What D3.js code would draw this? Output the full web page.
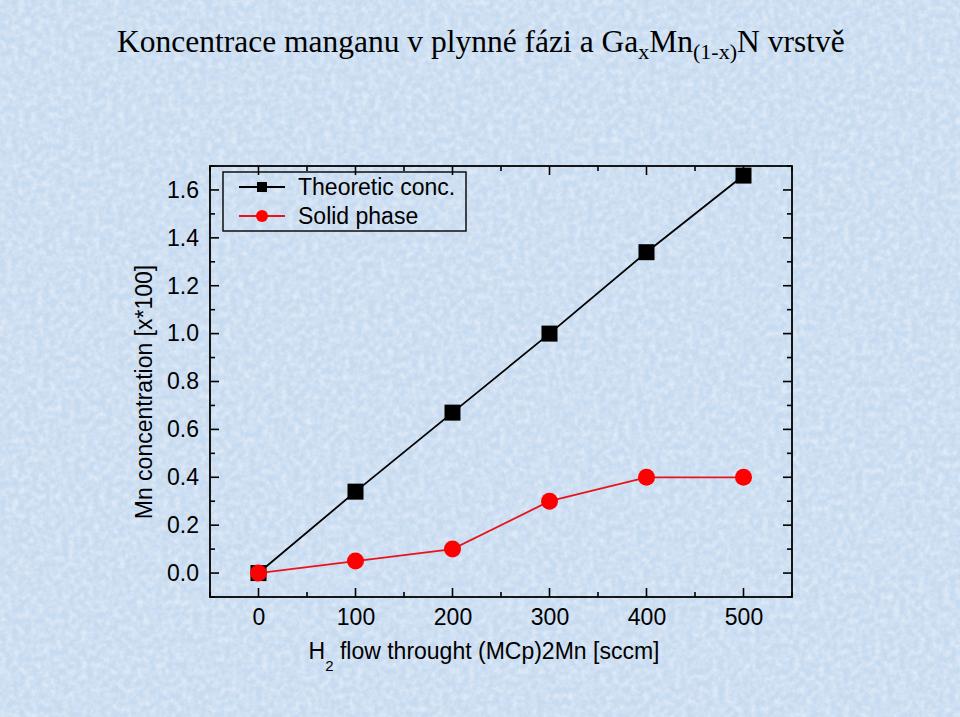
<!DOCTYPE html>
<html><head><meta charset="utf-8">
<script src="https://cdn.jsdelivr.net/npm/d3@7"></script>
<style>body{margin:0;background:#cddff2}svg{display:block}</style>
</head><body>
<svg id="c" width="960" height="717"></svg>
<script>
const xValues = [0, 100, 200, 300, 400, 500];
const theoretic = [0, 0.34, 0.67, 1.0, 1.34, 1.66];
const solid = [0, 0.05, 0.10, 0.30, 0.40, 0.40];
const xTicks = [0, 100, 200, 300, 400, 500];
const yTicks = [0.0, 0.2, 0.4, 0.6, 0.8, 1.0, 1.2, 1.4, 1.6];
const seriesNames = ["Theoretic conc.", "Solid phase"];

const W = 960, H = 717;
const svg = d3.select("#c");
const defs = svg.append("defs");
const f = defs.append("filter").attr("id","tex").attr("x",0).attr("y",0).attr("width","100%").attr("height","100%");
f.append("feTurbulence").attr("type","fractalNoise").attr("baseFrequency","0.16").attr("numOctaves",3).attr("seed",4).attr("result","n");
f.append("feColorMatrix").attr("in","n").attr("type","matrix")
 .attr("values","0 0 0 0 1  0 0 0 0 1  0 0 0 0 1  1.4 0 0 0 -0.45");
svg.append("rect").attr("width",W).attr("height",H).attr("fill","#c6daf0");
svg.append("rect").attr("width",W).attr("height",H).attr("filter","url(#tex)").attr("opacity",0.6);

const L = 210, R = 792, T = 166, B = 597;
const x = d3.scaleLinear().domain([-50, 550]).range([L, R]);
const y = d3.scaleLinear().domain([-0.1, 1.7]).range([B, T]);

// title
const title = svg.append("text").attr("x",117).attr("y",52)
  .attr("font-family","Liberation Serif, Times New Roman, serif").attr("font-size",31.5).attr("fill","#000");
title.append("tspan").text("Koncentrace manganu v plynné fázi a Ga");
title.append("tspan").attr("dy",7).attr("font-size",22).text("x");
title.append("tspan").attr("dy",-7).text("Mn");
title.append("tspan").attr("dy",7).attr("font-size",22).text("(1-x)");
title.append("tspan").attr("dy",-7).text("N vrstvě");

// frame
svg.append("rect").attr("x",L).attr("y",T).attr("width",R-L).attr("height",B-T)
  .attr("fill","none").attr("stroke","#000").attr("stroke-width",1.8);

const font = "Liberation Sans, Arial, sans-serif";
const FS = 23;
// ticks (inward, mirrored)
const minorX = d3.range(-50, 551, 50);
const minorY = d3.range(-0.1, 1.71, 0.1).map(v=>+v.toFixed(2));
const tg = svg.append("g").attr("stroke","#000").attr("stroke-width",1.6);
minorX.forEach(v=>{
  const major = xTicks.includes(v);
  const len = major ? 9 : 5;
  tg.append("line").attr("x1",x(v)).attr("x2",x(v)).attr("y1",B).attr("y2",B-len);
  tg.append("line").attr("x1",x(v)).attr("x2",x(v)).attr("y1",T).attr("y2",T+len);
});
minorY.forEach(v=>{
  const major = yTicks.some(t=>Math.abs(t-v)<1e-6);
  const len = major ? 9 : 5;
  tg.append("line").attr("y1",y(v)).attr("y2",y(v)).attr("x1",L).attr("x2",L+len);
  tg.append("line").attr("y1",y(v)).attr("y2",y(v)).attr("x1",R).attr("x2",R-len);
});

const xa = svg.append("g").attr("transform",`translate(0,${B})`)
  .call(d3.axisBottom(x).tickValues(xTicks).tickSize(0).tickPadding(12));
xa.select(".domain").remove();
xa.selectAll("text").attr("font-family",font).attr("font-size",FS).attr("fill","#000");
const ya = svg.append("g").attr("transform",`translate(${L},0)`)
  .call(d3.axisLeft(y).tickValues(yTicks).tickSize(0).tickPadding(11).tickFormat(d3.format(".1f")));
ya.select(".domain").remove();
ya.selectAll("text").attr("font-family",font).attr("font-size",FS).attr("fill","#000");

// axis titles
const xt = svg.append("text").attr("x",484).attr("y",659).attr("text-anchor","middle")
  .attr("font-family",font).attr("font-size",FS).attr("fill","#000");
xt.append("tspan").text("H");
xt.append("tspan").attr("dy",12).attr("font-size",15).text("2");
xt.append("tspan").attr("dy",-12).text(" flow throught (MCp)2Mn [sccm]");
svg.append("text").attr("transform","translate(152,392) rotate(-90)").attr("text-anchor","middle")
  .attr("font-family",font).attr("font-size",FS).attr("fill","#000").text("Mn concentration [x*100]");

// series
const line = d3.line().x((d,i)=>x(xValues[i])).y(d=>y(d));
svg.append("path").datum(theoretic).attr("d",line).attr("fill","none").attr("stroke","#000").attr("stroke-width",1.8);
svg.append("path").datum(solid).attr("d",line).attr("fill","none").attr("stroke","#e8141b").attr("stroke-width",1.8);
svg.selectAll(".sq").data(theoretic).enter().append("rect")
  .attr("x",(d,i)=>x(xValues[i])-8).attr("y",d=>y(d)-8).attr("width",16).attr("height",16).attr("fill","#000");
svg.selectAll(".ci").data(solid).enter().append("circle")
  .attr("cx",(d,i)=>x(xValues[i])).attr("cy",d=>y(d)).attr("r",8.5).attr("fill","#ff0000");

// legend
svg.append("rect").attr("x",223).attr("y",172).attr("width",243).attr("height",59)
  .attr("fill","none").attr("stroke","#000").attr("stroke-width",1.4);
const lg = [{c:"#000",m:"sq",yy:187},{c:"#e8141b",m:"ci",yy:216}];
lg.forEach((d,i)=>{
  svg.append("line").attr("x1",239).attr("x2",285).attr("y1",d.yy).attr("y2",d.yy).attr("stroke",d.c).attr("stroke-width",1.8);
  if(d.m==="sq") svg.append("rect").attr("x",257).attr("y",d.yy-5).attr("width",10).attr("height",10).attr("fill","#000");
  else svg.append("circle").attr("cx",262).attr("cy",d.yy).attr("r",6).attr("fill","#ff0000");
  svg.append("text").attr("x",298).attr("y",d.yy+8).attr("font-family",font).attr("font-size",FS).attr("fill","#000").text(seriesNames[i]);
});
</script>
</body></html>
